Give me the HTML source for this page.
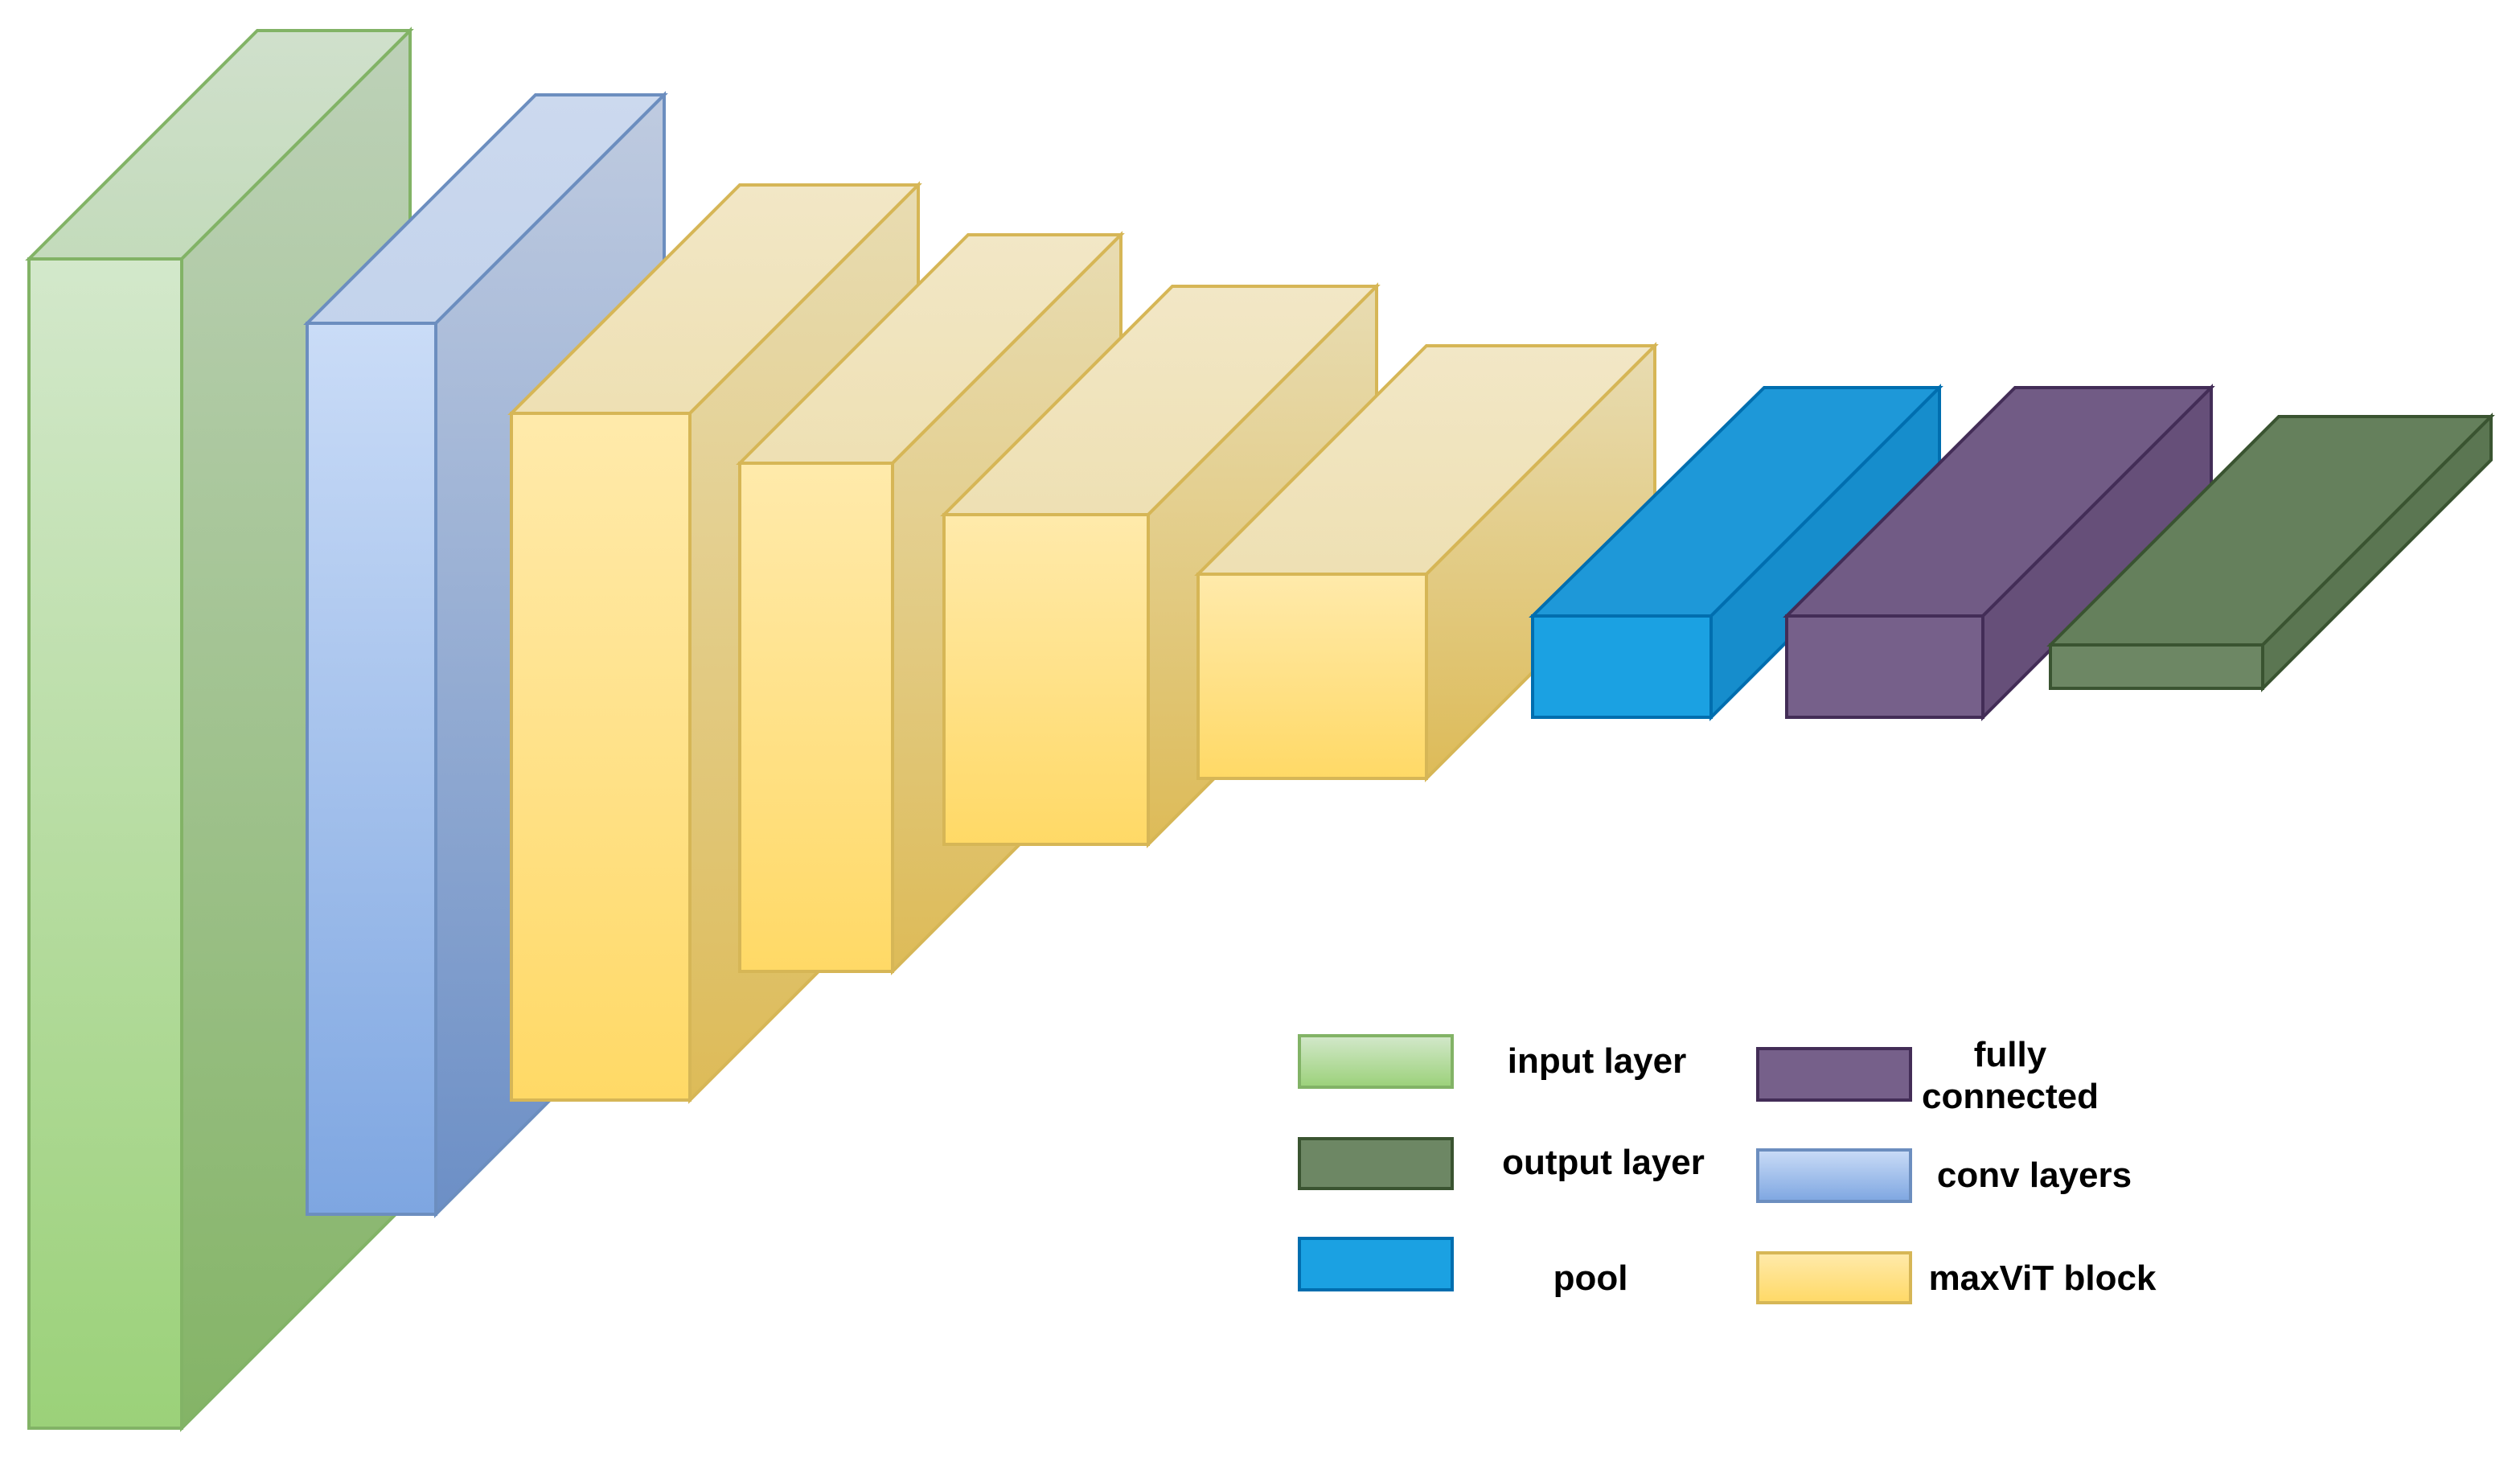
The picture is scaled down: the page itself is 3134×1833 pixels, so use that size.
<!DOCTYPE html>
<html><head><meta charset="utf-8"><style>html,body{margin:0;padding:0;background:#fff}svg{display:block}</style></head>
<body>
<svg width="3134" height="1833" viewBox="0 0 1567 916.5" xmlns="http://www.w3.org/2000/svg">
<defs>
<linearGradient id="gF" x1="0" y1="0" x2="0" y2="1"><stop offset="0" stop-color="#d3e8cb"/><stop offset="1" stop-color="#9bd179"/></linearGradient>
<linearGradient id="gT" x1="0" y1="0" x2="0" y2="1"><stop offset="0" stop-color="#d0e0cc"/><stop offset="1" stop-color="#c3dbbb"/></linearGradient>
<linearGradient id="gS" x1="0" y1="0" x2="0" y2="1"><stop offset="0" stop-color="#bdd1b8"/><stop offset="1" stop-color="#84b466"/></linearGradient>
<linearGradient id="bF" x1="0" y1="0" x2="0" y2="1"><stop offset="0" stop-color="#cadcf7"/><stop offset="1" stop-color="#7ea6e1"/></linearGradient>
<linearGradient id="bT" x1="0" y1="0" x2="0" y2="1"><stop offset="0" stop-color="#ccd9ee"/><stop offset="1" stop-color="#c3d3ec"/></linearGradient>
<linearGradient id="bS" x1="0" y1="0" x2="0" y2="1"><stop offset="0" stop-color="#bfcbe0"/><stop offset="1" stop-color="#6c8fc6"/></linearGradient>
<linearGradient id="yF" x1="0" y1="0" x2="0" y2="1"><stop offset="0" stop-color="#ffeaab"/><stop offset="1" stop-color="#ffd966"/></linearGradient>
<linearGradient id="yT" x1="0" y1="0" x2="0" y2="1"><stop offset="0" stop-color="#f2e7c6"/><stop offset="1" stop-color="#eee0b3"/></linearGradient>
<linearGradient id="yS" x1="0" y1="0" x2="0" y2="1"><stop offset="0" stop-color="#e8dcb2"/><stop offset="1" stop-color="#ddbb58"/></linearGradient>
</defs>
<g stroke-width="2" stroke-linejoin="miter">
<g stroke="#82b366"><polygon points="18,161 160,19 255,19 113,161" fill="url(#gT)"/><polygon points="113,161 255,19 255,746 113,888" fill="url(#gS)"/><rect x="18" y="161" width="95" height="727" fill="url(#gF)"/></g>
<g stroke="#6c8ebf"><polygon points="191,201 333,59 413,59 271,201" fill="url(#bT)"/><polygon points="271,201 413,59 413,613 271,755" fill="url(#bS)"/><rect x="191" y="201" width="80" height="554" fill="url(#bF)"/></g>
<g stroke="#d6b656"><polygon points="318,257 460,115 571,115 429,257" fill="url(#yT)"/><polygon points="429,257 571,115 571,542 429,684" fill="url(#yS)"/><rect x="318" y="257" width="111" height="427" fill="url(#yF)"/></g>
<g stroke="#d6b656"><polygon points="460,288 602,146 697,146 555,288" fill="url(#yT)"/><polygon points="555,288 697,146 697,462 555,604" fill="url(#yS)"/><rect x="460" y="288" width="95" height="316" fill="url(#yF)"/></g>
<g stroke="#d6b656"><polygon points="587,320 729,178 856,178 714,320" fill="url(#yT)"/><polygon points="714,320 856,178 856,383 714,525" fill="url(#yS)"/><rect x="587" y="320" width="127" height="205" fill="url(#yF)"/></g>
<g stroke="#d6b656"><polygon points="745,357 887,215 1029,215 887,357" fill="url(#yT)"/><polygon points="887,357 1029,215 1029,342 887,484" fill="url(#yS)"/><rect x="745" y="357" width="142" height="127" fill="url(#yF)"/></g>
<g stroke="#006eaf"><polygon points="953,383 1097,241 1206,241 1064,383" fill="#1e98d8"/><polygon points="1064,383 1206,241 1206,304 1064,446" fill="#168dcc"/><rect x="953" y="383" width="111" height="63" fill="#1ba1e2"/></g>
<g stroke="#432d57"><polygon points="1111,383 1253,241 1375,241 1233,383" fill="#715b85"/><polygon points="1233,383 1375,241 1375,304 1233,446" fill="#664f79"/><rect x="1111" y="383" width="122" height="63" fill="#76608a"/></g>
<g stroke="#3a5431"><polygon points="1275,401 1417,259 1549,259 1407,401" fill="#65805c"/><polygon points="1407,401 1549,259 1549,286 1407,428" fill="#5b7652"/><rect x="1275" y="401" width="132" height="27" fill="#6d8764"/></g>
<rect x="808" y="644" width="95" height="32" fill="url(#gF)" stroke="#82b366"/>
<rect x="808" y="708" width="95" height="31" fill="#6d8764" stroke="#3a5431"/>
<rect x="808" y="770" width="95" height="32" fill="#1ba1e2" stroke="#006eaf"/>
<rect x="1093" y="652" width="95" height="32" fill="#76608a" stroke="#432d57"/>
<rect x="1093" y="715" width="95" height="32" fill="url(#bF)" stroke="#6c8ebf"/>
<rect x="1093" y="779" width="95" height="31" fill="url(#yF)" stroke="#d6b656"/>
</g>
<g font-family="Liberation Sans, Arial, sans-serif" font-weight="bold" font-size="22" fill="#000" text-anchor="middle">
<text x="993" y="667">input layer</text>
<text x="997" y="730">output layer</text>
<text x="989" y="802">pool</text>
<text x="1250" y="663">fully</text>
<text x="1250" y="689">connected</text>
<text x="1265" y="738">conv layers</text>
<text x="1270" y="802">maxViT block</text>
</g>
</svg>
</body></html>
